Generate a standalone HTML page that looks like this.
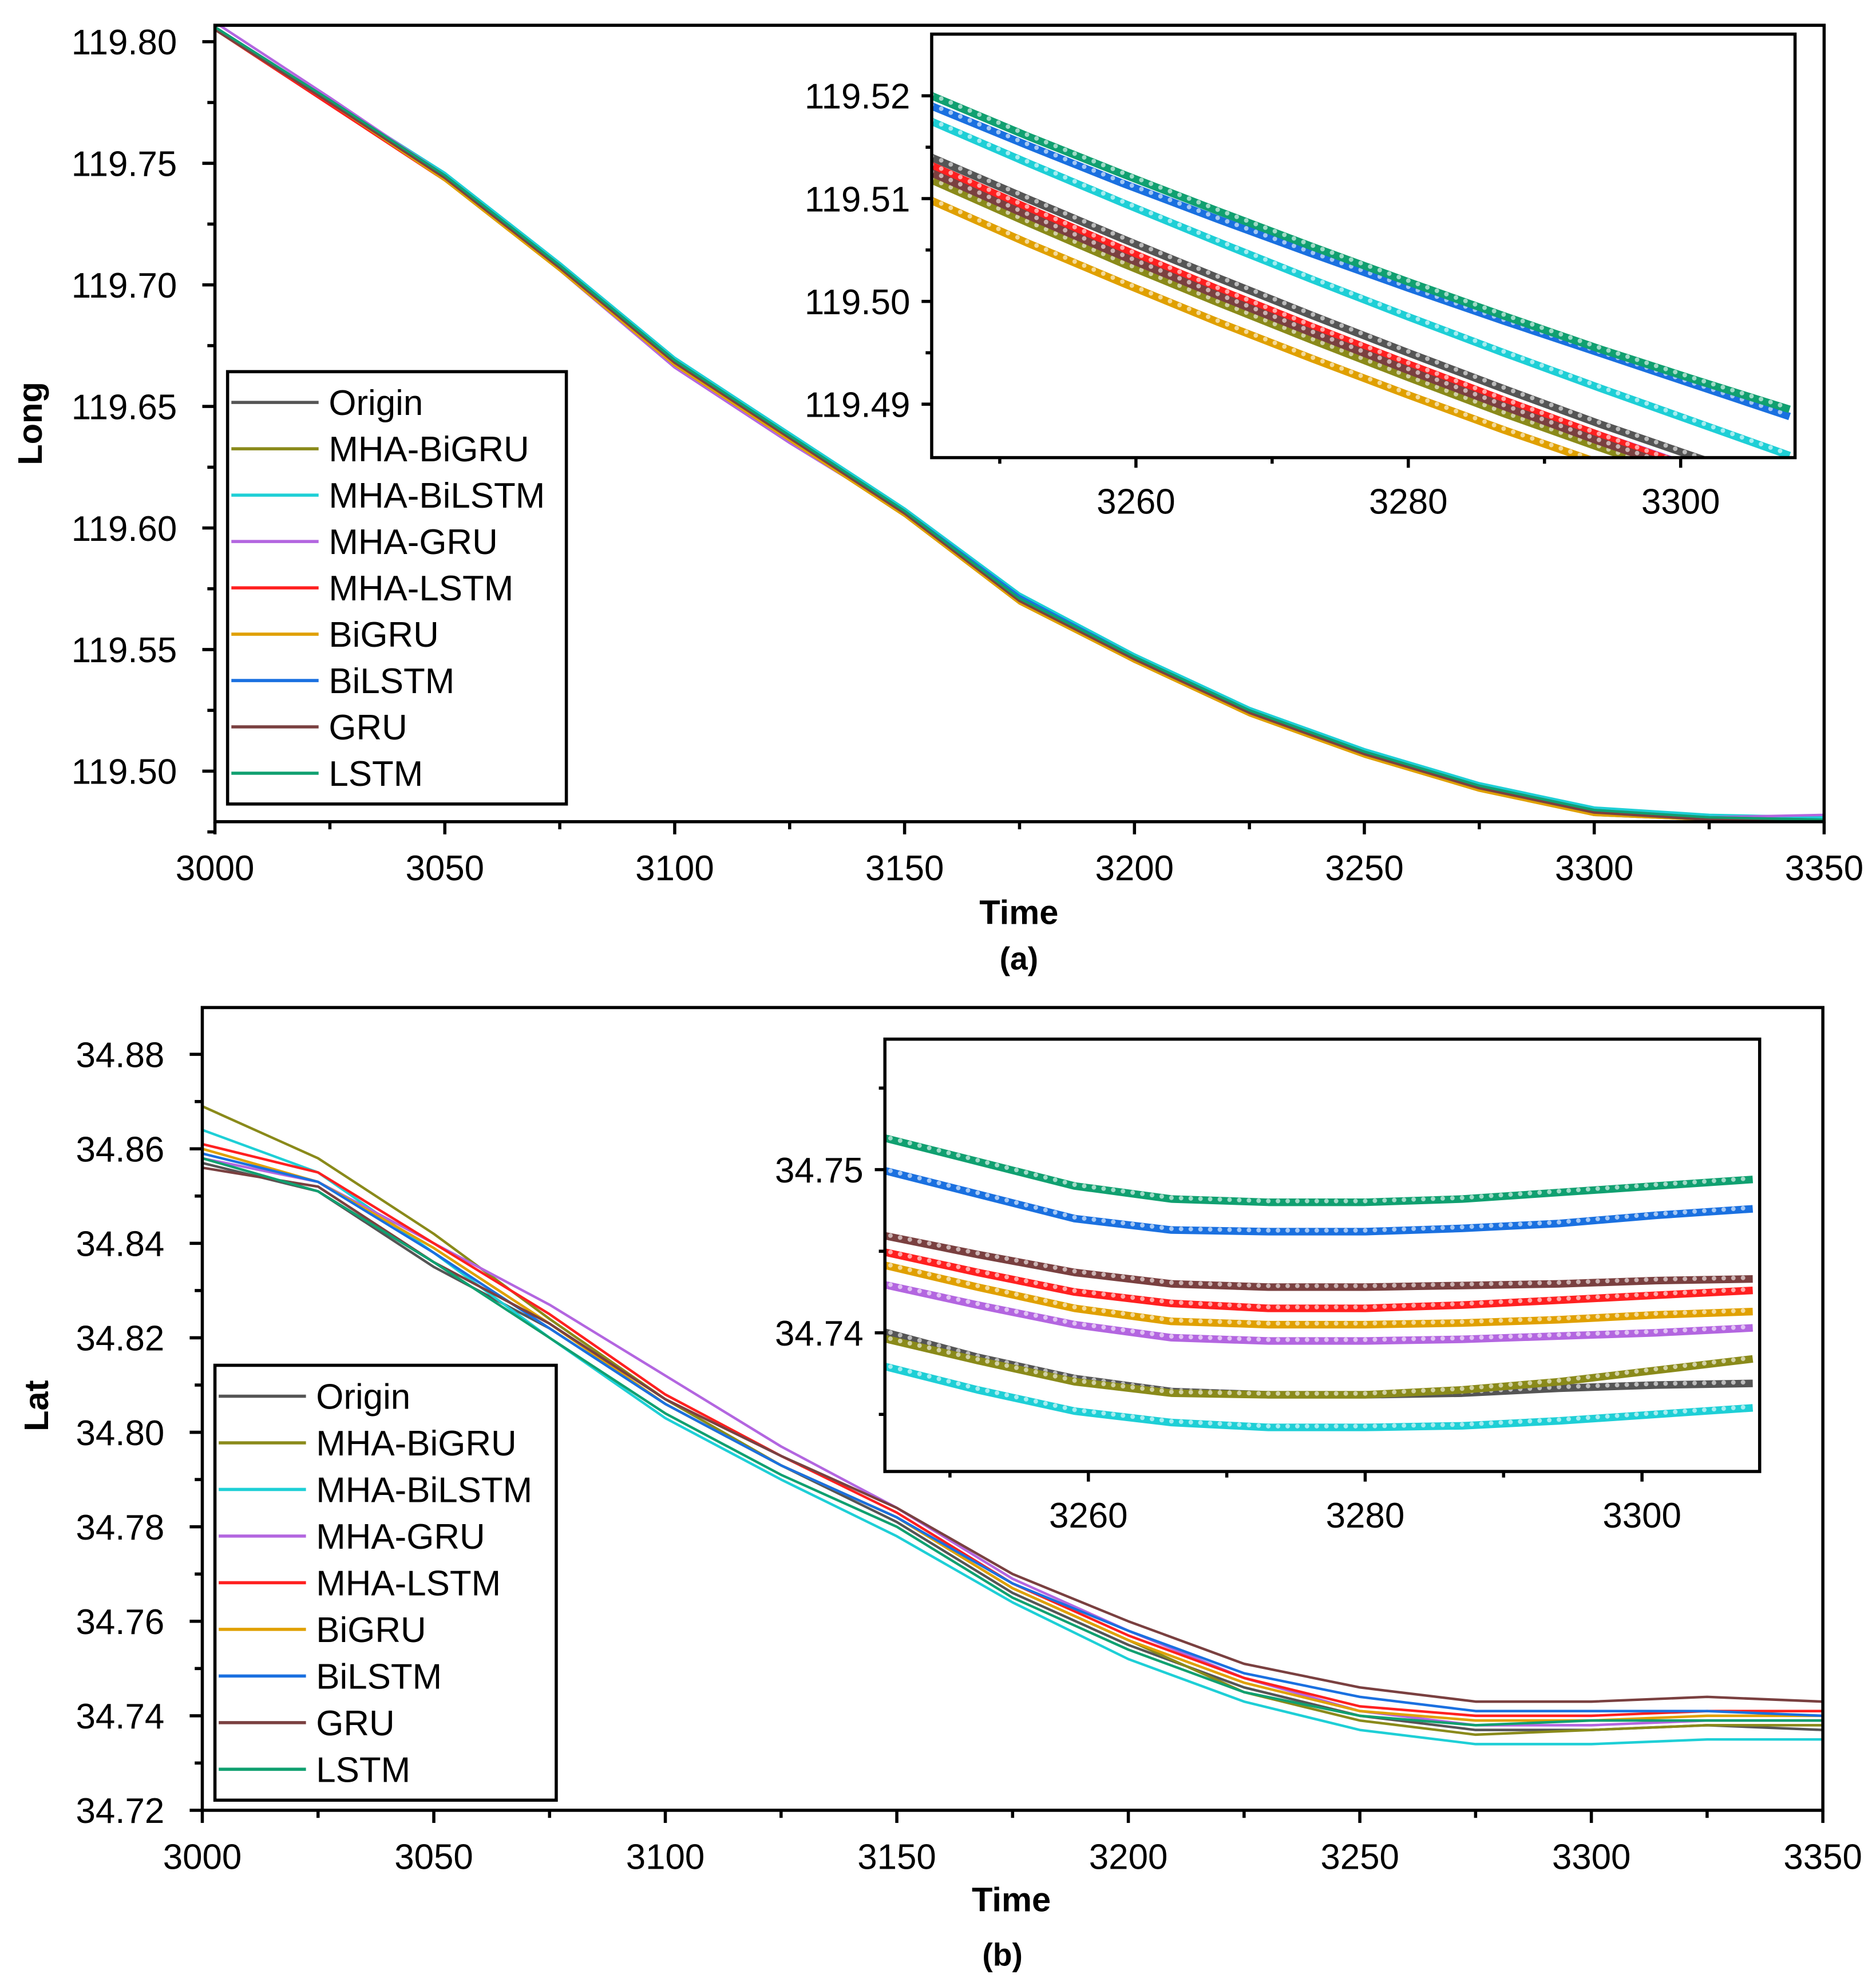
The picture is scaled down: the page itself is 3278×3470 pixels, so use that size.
<!DOCTYPE html>
<html><head><meta charset="utf-8"><style>
html,body{margin:0;padding:0;background:#fff}
svg{display:block}
text{font-family:"Liberation Sans",Arial,sans-serif;fill:#000}
</style></head><body>
<svg id="chart" width="3278" height="3470" viewBox="0 0 1484 1571" xmlns="http://www.w3.org/2000/svg"></svg>
<script>
const names = ["Origin","MHA-BiGRU","MHA-BiLSTM","MHA-GRU","MHA-LSTM","BiGRU","BiLSTM","GRU","LSTM"];
const colors = ["#555555","#8a8a1a","#1ecfd6","#b366e0","#ff2020","#e0a000","#1a70e0","#7a4040","#10a070"];
const mainX = [3000,3025,3050,3075,3100,3125,3150,3175,3200,3225,3250,3275,3300,3325,3350];
const insetX = [3245,3252,3259,3266,3273,3280,3287,3294,3301,3308];

// Panel (a) Long
const longOrigin = [119.805,119.775,119.744,119.707,119.668,119.637,119.606,119.570,119.546,119.524,119.507,119.493,119.483,119.481,119.480];
const longMhaBiGRU = [119.805,119.776,119.744,119.708,119.669,119.637,119.607,119.571,119.546,119.525,119.507,119.493,119.482,119.480,119.480];
const longMhaBiLSTM = [119.806,119.776,119.746,119.709,119.670,119.639,119.608,119.573,119.548,119.526,119.509,119.495,119.485,119.482,119.481];
const longMhaGRU = [119.808,119.777,119.745,119.706,119.666,119.635,119.606,119.570,119.545,119.524,119.507,119.494,119.484,119.481,119.482];
const longMhaLSTM = [119.805,119.774,119.743,119.707,119.668,119.637,119.606,119.570,119.545,119.524,119.507,119.493,119.483,119.480,119.480];
const longBiGRU = [119.805,119.775,119.743,119.706,119.667,119.636,119.605,119.569,119.545,119.523,119.506,119.492,119.482,119.480,119.480];
const longBiLSTM = [119.806,119.776,119.745,119.708,119.669,119.638,119.607,119.572,119.547,119.525,119.508,119.494,119.484,119.481,119.480];
const longGRU = [119.805,119.775,119.744,119.707,119.668,119.637,119.606,119.570,119.546,119.524,119.507,119.493,119.483,119.480,119.480];
const longLSTM = [119.806,119.776,119.745,119.708,119.669,119.638,119.607,119.571,119.547,119.525,119.508,119.494,119.484,119.481,119.480];

const insLongOrigin = [119.5140,119.5100,119.5061,119.5023,119.4986,119.4950,119.4915,119.4881,119.4849,119.4818];
const insLongMhaBiGRU = [119.5118,119.5077,119.5037,119.4999,119.4962,119.4926,119.4891,119.4858,119.4826,119.4796];
const insLongMhaBiLSTM = [119.5175,119.5135,119.5096,119.5058,119.5021,119.4985,119.4950,119.4916,119.4883,119.4850];
const insLongMhaGRU = [119.5128,119.5088,119.5049,119.5011,119.4974,119.4938,119.4903,119.4870,119.4838,119.4808];
const insLongMhaLSTM = [119.5132,119.5091,119.5051,119.5012,119.4975,119.4939,119.4904,119.4870,119.4837,119.4806];
const insLongBiGRU = [119.5098,119.5057,119.5018,119.4980,119.4944,119.4909,119.4875,119.4843,119.4812,119.4782];
const insLongBiLSTM = [119.5190,119.5152,119.5115,119.5080,119.5046,119.5013,119.4981,119.4950,119.4919,119.4888];
const insLongGRU = [119.5125,119.5084,119.5044,119.5006,119.4969,119.4933,119.4898,119.4864,119.4832,119.4801];
const insLongLSTM = [119.5200,119.5161,119.5124,119.5088,119.5053,119.5019,119.4986,119.4954,119.4924,119.4895];

// Panel (b) Lat
const latOrigin = [34.857,34.851,34.835,34.822,34.806,34.793,34.781,34.766,34.755,34.746,34.740,34.737,34.737,34.738,34.737];
const latMhaBiGRU = [34.869,34.858,34.842,34.824,34.807,34.793,34.782,34.767,34.756,34.745,34.739,34.736,34.737,34.738,34.738];
const latMhaBiLSTM = [34.864,34.855,34.838,34.820,34.803,34.790,34.778,34.764,34.752,34.743,34.737,34.734,34.734,34.735,34.735];
const latMhaGRU = [34.858,34.853,34.840,34.827,34.812,34.797,34.784,34.769,34.758,34.748,34.741,34.738,34.738,34.739,34.739];
const latMhaLSTM = [34.861,34.855,34.840,34.825,34.808,34.795,34.783,34.768,34.757,34.748,34.742,34.740,34.740,34.741,34.741];
const latBiGRU = [34.860,34.853,34.839,34.823,34.806,34.793,34.782,34.767,34.756,34.747,34.741,34.739,34.739,34.740,34.740];
const latBiLSTM = [34.859,34.853,34.838,34.822,34.806,34.793,34.782,34.768,34.758,34.749,34.744,34.741,34.741,34.741,34.740];
const latGRU = [34.856,34.852,34.836,34.823,34.807,34.795,34.784,34.770,34.760,34.751,34.746,34.743,34.743,34.744,34.743];
const latLSTM = [34.858,34.851,34.836,34.820,34.804,34.791,34.780,34.765,34.754,34.745,34.740,34.738,34.739,34.739,34.739];

const insLatOrigin = [34.7401,34.7385,34.7372,34.7364,34.7362,34.7362,34.7363,34.7366,34.7368,34.7369];
const insLatMhaBiGRU = [34.7397,34.7383,34.7370,34.7363,34.7362,34.7362,34.7365,34.7370,34.7377,34.7384];
const insLatMhaBiLSTM = [34.7380,34.7365,34.7352,34.7345,34.7342,34.7342,34.7343,34.7346,34.7350,34.7354];
const insLatMhaGRU = [34.7430,34.7417,34.7405,34.7397,34.7395,34.7395,34.7396,34.7398,34.7400,34.7403];
const insLatMhaLSTM = [34.7450,34.7437,34.7425,34.7418,34.7415,34.7415,34.7417,34.7420,34.7423,34.7426];
const insLatBiGRU = [34.7442,34.7428,34.7415,34.7407,34.7405,34.7405,34.7406,34.7408,34.7411,34.7413];
const insLatBiLSTM = [34.7500,34.7485,34.7470,34.7463,34.7462,34.7462,34.7464,34.7467,34.7472,34.7476];
const insLatGRU = [34.7460,34.7448,34.7437,34.7430,34.7428,34.7428,34.7429,34.7430,34.7432,34.7433];
const insLatLSTM = [34.7520,34.7505,34.7490,34.7482,34.7480,34.7480,34.7482,34.7486,34.7490,34.7494];

const longTicks = ["119.50","119.55","119.60","119.65","119.70","119.75","119.80"];
const latTicks = ["34.72","34.74","34.76","34.78","34.80","34.82","34.84","34.86","34.88"];
const timeTicks = ["3000","3050","3100","3150","3200","3250","3300","3350"];
const insetTimeTicks = ["3260","3280","3300"];
const insLongTicks = ["119.49","119.50","119.51","119.52"];
const insLatTicks = ["34.74","34.75"];

const svg = document.getElementById('chart');
const NS = "http://www.w3.org/2000/svg";
function mk(tag, attrs, parent){const e=document.createElementNS(NS,tag);for(const k in attrs)e.setAttribute(k,attrs[k]);(parent||svg).appendChild(e);return e;}
function txt(s,x,y,size,anchor,parent,weight){const t=mk('text',{x:x,y:y,'font-size':size,'text-anchor':anchor||'middle'},parent);if(weight)t.setAttribute('font-weight',weight);t.textContent=s;return t;}
let clipId=0;

function panel(o){
  const g=mk('g',{});
  
  
  const sx=v=>o.L+(v-o.x0)/(o.x1-o.x0)*(o.R-o.L);
  const sy=v=>o.B-(v-o.y0)/(o.y1-o.y0)*(o.B-o.T);
  const cid='c'+(clipId++);
  const cp=mk('clipPath',{id:cid},g);mk('rect',{x:o.L,y:o.T,width:o.R-o.L,height:o.B-o.T},cp);
  if(o.bg) mk('rect',{x:o.L,y:o.T,width:o.R-o.L,height:o.B-o.T,fill:'#fff'},g);
  const sg=mk('g',{'clip-path':'url(#'+cid+')'},g);
  o.series.forEach((arr,i)=>{
    const d=arr.map((v,j)=>(j?'L':'M')+sx(o.xs[j]).toFixed(2)+' '+sy(v).toFixed(2)).join(' ');
    const p=mk('path',{d:d,fill:'none',stroke:colors[i],'stroke-width':o.sw,'stroke-linejoin':'round'},sg);
    
    
    if(o.dots){
      for(let j=0;j<arr.length-1;j++){
        for(let k=0;k<10;k++){
          const f=k/10;
          const cx=sx(o.xs[j])+(sx(o.xs[j+1])-sx(o.xs[j]))*f;
          const cy=sy(arr[j])+(sy(arr[j+1])-sy(arr[j]))*f;
          mk('circle',{cx:cx,cy:cy-1,r:1.8,fill:'#fff','fill-opacity':0.6},sg);
        }
      }
    }
  });
  mk('rect',{x:o.L,y:o.T,width:o.R-o.L,height:o.B-o.T,fill:'none',stroke:'#000','stroke-width':o.bw},g);
  o.xt.forEach(s=>{const v=+s,x=sx(v);mk('line',{x1:x,y1:o.B,x2:x,y2:o.B+o.tl,stroke:'#000','stroke-width':o.bw},g);txt(s,x,o.B+o.tl+o.fs*1.3,o.fs,'middle',g);});
  o.xm.forEach(v=>{const x=sx(v);mk('line',{x1:x,y1:o.B,x2:x,y2:o.B+o.tl*0.6,stroke:'#000','stroke-width':o.bw},g);});
  o.yt.forEach(s=>{const v=+s,y=sy(v);mk('line',{x1:o.L,y1:y,x2:o.L-o.tl,y2:y,stroke:'#000','stroke-width':o.bw},g);txt(s,o.L-o.tl-o.yg,y+o.fs*0.36,o.fs,'end',g);});
  o.ym.forEach(v=>{const y=sy(v);mk('line',{x1:o.L,y1:y,x2:o.L-o.tl*0.6,y2:y,stroke:'#000','stroke-width':o.bw},g);});
  return g;
}
function legend(x,y,w,h,nm){
  const g=mk('g',{});
  
  
  mk('rect',{x:x,y:y,width:w,height:h,fill:'#fff',stroke:'#000','stroke-width':2.5},g);
  const step=(h-12)/9;
  names.forEach((n,i)=>{
    const e=mk('g',{},g);
    
    
    const cy=y+6+step*(i+0.5);
    mk('line',{x1:x+3,y1:cy,x2:x+72,y2:cy,stroke:colors[i],'stroke-width':2.5},e);
    txt(n,x+80,cy+10,28,'start',e);
  });
}
function range(a,b,s){const r=[];for(let v=a;v<=b+1e-9;v+=s)r.push(+v.toFixed(4));return r;}

// Panel a
panel({name:'panel-a-long',L:170,R:1443,T:20,B:650,x0:3000,x1:3350,y0:119.50-(650-610)/1923,y1:119.80+(33-20)/1923,
  xs:mainX,series:[longOrigin,longMhaBiGRU,longMhaBiLSTM,longMhaGRU,longMhaLSTM,longBiGRU,longBiLSTM,longGRU,longLSTM],
  sw:2,bw:2.5,tl:10,fs:28,yg:20,xt:timeTicks,xm:range(3025,3325,50),yt:longTicks,ym:range(119.475,119.775,0.05)});
legend(180,294,268,342,'legend-a');
panel({name:'inset-a-long',bg:true,L:737,R:1420,T:27,B:362,x0:3245,x1:3308.4,y0:119.4848,y1:119.526,
  xs:insetX,series:[insLongOrigin,insLongMhaBiGRU,insLongMhaBiLSTM,insLongMhaGRU,insLongMhaLSTM,insLongBiGRU,insLongBiLSTM,insLongGRU,insLongLSTM],
  sw:6,dots:true,bw:2.5,tl:8,fs:28,yg:9,xt:insetTimeTicks,xm:[3250,3270,3290],yt:insLongTicks,ym:[119.495,119.505,119.515]});
let t=txt('Long',0,0,27,'middle',null,'bold');t.setAttribute('transform','translate(33,335) rotate(-90)');

t=txt('Time',806,731,27,'middle',null,'bold');
t=txt('(a)',806,767,25,'middle',null,'bold');

// Panel b
panel({name:'panel-b-lat',L:160,R:1442,T:797,B:1432,x0:3000,x1:3350,y0:34.72,y1:34.72+(1432-797)/3737.5,
  xs:mainX,series:[latOrigin,latMhaBiGRU,latMhaBiLSTM,latMhaGRU,latMhaLSTM,latBiGRU,latBiLSTM,latGRU,latLSTM],
  sw:2,bw:2.5,tl:10,fs:28,yg:20,xt:timeTicks,xm:range(3025,3325,50),yt:latTicks,ym:range(34.73,34.87,0.02)});
legend(170,1080,270,344,'legend-b');
panel({name:'inset-b-lat',bg:true,L:700,R:1392,T:822,B:1164,x0:3245.3,x1:3308.5,y0:34.7315,y1:34.758,
  xs:insetX,series:[insLatOrigin,insLatMhaBiGRU,insLatMhaBiLSTM,insLatMhaGRU,insLatMhaLSTM,insLatBiGRU,insLatBiLSTM,insLatGRU,insLatLSTM],
  sw:6,dots:true,bw:2.5,tl:8,fs:28,yg:9,xt:insetTimeTicks,xm:[3250,3270,3290],yt:insLatTicks,ym:[34.735,34.745,34.755]});
t=txt('Lat',0,0,27,'middle',null,'bold');t.setAttribute('transform','translate(38,1112) rotate(-90)');

t=txt('Time',800,1512,27,'middle',null,'bold');
t=txt('(b)',793,1555,25,'middle',null,'bold');
</script>
</body></html>
